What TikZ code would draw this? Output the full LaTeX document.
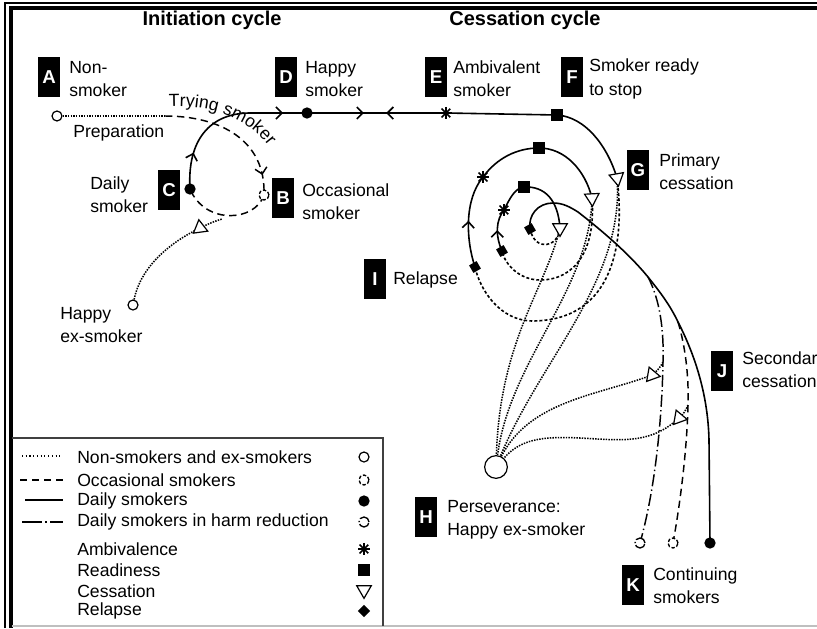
\documentclass[tikz,border=0pt]{standalone}
\usepackage{fontspec}
\setmainfont{Liberation Sans}
\usetikzlibrary{shapes.geometric,decorations.markings,decorations.text,arrows.meta}
\pgfdeclarelayer{background}
\pgfsetlayers{background,main}

\tikzset{
  lbl/.style={font=\fontsize{13.2}{17.5}\selectfont, align=left, inner sep=0pt, anchor=west},
  tag/.style={fill=black, text=white, font=\fontsize{14}{14}\selectfont\bfseries,
              minimum width=16pt, minimum height=30pt, inner sep=0pt},
  title/.style={font=\fontsize{15}{16}\selectfont\bfseries, inner sep=0pt},
  % line kinds
  daily/.style={line width=1.2pt},
  exsm/.style={line width=1.15pt, dash pattern=on 1.1pt off 0.9pt},
  occas/.style={line width=1.1pt, dash pattern=on 5.5pt off 3.5pt},
  harm/.style={line width=1.1pt, dash pattern=on 9pt off 2.5pt on 1pt off 2.5pt},
  relap/.style={line width=1.2pt, dash pattern=on 2.2pt off 1.6pt},
  % state markers
  m-ex/.style={circle, draw, fill=white, line width=0.9pt, minimum size=7.5pt, inner sep=0pt},
  m-occ/.style={circle, draw, fill=white, line width=1pt, dash pattern=on 2.6pt off 1.4pt,
                minimum size=7.5pt, inner sep=0pt},
  m-daily/.style={circle, fill=black, minimum size=8.5pt, inner sep=0pt},
  m-harm/.style={circle, draw, fill=white, line width=1pt,
                 dash pattern=on 9pt off 1.6pt on 0.9pt off 1.6pt, minimum size=7.5pt, inner sep=0pt},
  m-amb/.style={circle, minimum size=9.5pt, inner sep=0pt,
                path picture={\foreach \a in {0,45,90,135}{%
                  \draw[line width=1.3pt] (path picture bounding box.center) ++(\a:4.75pt) -- ++(\a+180:9.5pt);}}},
  m-ready/.style={rectangle, fill=black, minimum size=8.5pt, inner sep=0pt},
  m-cess/.style={regular polygon, regular polygon sides=3, draw, fill=white, line width=0.9pt,
                 minimum size=12.5pt, inner sep=0pt},
  m-rel/.style={rectangle, fill=black, minimum size=6.5pt, inner sep=0pt},
  chev/.style={postaction={decorate, decoration={markings,
      mark=at position #1 with {\arrow{Straight Barb[length=4.5pt,width=9pt]}}}}},
}

\begin{document}
\begin{tikzpicture}[x=0.75pt,y=-0.75pt]
\useasboundingbox (0,0) rectangle (817,628);

% frame
\draw[line width=0.8pt] (5,628) |- (817,3);
\draw[line width=3pt] (10.5,628) |- (817,7.5);
\draw[black!25, line width=1.2pt] (12,626) -- (817,626);

% titles
\node[title] (tInit) at (212,20) {Initiation cycle};
\node[title] (tCess) at (525,20) {Cessation cycle};

% stage tags and their captions
\node[tag] (A) at (49,77) {A};
\node[lbl] (Atxt) at (69,79) {Non-\\smoker};
\node[tag] (D) at (286,77) {D};
\node[lbl] (Dtxt) at (305,79) {Happy\\smoker};
\node[tag] (E) at (436,77) {E};
\node[lbl] (Etxt) at (453,79) {Ambivalent\\smoker};
\node[tag] (F) at (572,77) {F};
\node[lbl] (Ftxt) at (589,79) {Smoker ready\\to stop};
\node[tag] (G) at (638,170) {G};
\node[lbl] (Gtxt) at (659,172) {Primary\\cessation};
\node[tag] (C) at (169,190) {C};
\node[lbl] (Ctxt) at (90,195) {Daily\\smoker};
\node[tag] (B) at (283,198) {B};
\node[lbl] (Btxt) at (302,202) {Occasional\\smoker};
\node[tag] (I) at (375,279) {I};
\node[lbl] (Itxt) at (393,280) {Relapse};
\node[tag] (J) at (722,371) {J};
\node[lbl] (Jtxt) at (742,370) {Secondary\\cessation};
\node[tag] (H) at (426,517) {H};
\node[lbl] (Htxt) at (447,520) {Perseverance:\\Happy ex-smoker};
\node[tag] (K) at (633,585) {K};
\node[lbl] (Ktxt) at (653,586) {Continuing\\smokers};
\node[lbl] (exLtxt) at (60,325) {Happy\\ex-smoker};
\node[lbl] (preptxt) at (73,133) {Preparation};

% initiation cycle markers
\node[m-ex] (nonsm) at (57,116) {};
\coordinate (prep) at (165,116);
\node[m-occ] (oB) at (264,195) {};
\node[m-daily] (dC) at (190,189) {};
\coordinate (top) at (250,113);
\node[m-daily] (dD) at (307,113) {};
\node[m-amb] (aE) at (446,113) {};
\node[m-ready] (rF) at (557,115) {};
\node[m-ex] (exL) at (133,305) {};
\node[m-cess, rotate=8] (cL) at (200,228) {};
\coordinate (bot) at (222,219);

% cessation spiral markers
\node[m-cess, rotate=190] (cG) at (617,178) {};
\node[m-rel, rotate=30] (rel1) at (475,267) {};
\node[m-amb] (amb1) at (483,177) {};
\node[m-ready] (rd1) at (539,148) {};
\node[m-cess, rotate=183] (c1) at (592,198) {};
\node[m-rel, rotate=30] (rel2) at (502,251) {};
\node[m-amb] (amb2) at (504,210) {};
\node[m-ready] (rd2) at (524,187) {};
\node[m-cess, rotate=180] (c2) at (560,228) {};
\node[m-rel, rotate=30] (rel3) at (530,229) {};
\coordinate (sA) at (578,212);
\coordinate (sB) at (648,277);
\coordinate (sC) at (678,322);
\coordinate (jdd) at (663,362);
\coordinate (jd) at (688,405);
\node[m-cess, rotate=-100] (cJ1) at (652,375) {};
\node[m-cess, rotate=-100] (cJ2) at (679,418) {};
\node[m-ex, minimum size=17pt] (H0) at (496,467) {};
\node[m-harm] (kH) at (640,543) {};
\node[m-occ] (kO) at (673,543) {};
\node[m-daily] (kD) at (710,543) {};

\begin{pgfonlayer}{background}
% initiation cycle
\draw[exsm] (nonsm) -- (prep);
\draw[occas, chev=0.86] (prep) .. controls (220,116) and (266,140) .. (oB.center);
\draw[occas] (oB.center) .. controls (255,222) and (205,225) .. (dC.center);
\draw[daily, chev=0.33] (dC.center) .. controls (187,140) and (210,113) .. (top);
\draw[daily, chev=0.58] (top) -- (dD.center);
\draw[daily, postaction={decorate, decoration={markings,
    mark=at position 0.41 with {\arrow{Straight Barb[length=4.5pt,width=9pt]}},
    mark=at position 0.57 with {\arrowreversed{Straight Barb[length=4.5pt,width=9pt]}}}}]
  (dD.center) -- (aE.center);
\draw[daily] (aE.center) -- (rF.center);
\draw[daily] (rF.center) .. controls (585,117) and (607,145) .. (cG.center);
\draw[exsm] (exL) .. controls (140,270) and (165,245) .. (cL.center)
  .. controls (208,224) and (215,221) .. (bot);

% cessation spiral
\draw[relap] (cG.center) .. controls (625,240) and (615,320) .. (533,321)
  .. controls (500,321) and (480,290) .. (rel1.center);
\draw[daily, chev=0.5] (rel1.center) .. controls (466,240) and (464,200) .. (amb1.center);
\draw[daily] (amb1.center) .. controls (497,158) and (517,148) .. (rd1.center);
\draw[daily] (rd1.center) .. controls (565,148) and (585,170) .. (c1.center);
\draw[relap] (c1.center) .. controls (596,250) and (575,280) .. (540,280)
  .. controls (520,280) and (505,265) .. (rel2.center);
\draw[daily, chev=0.5] (rel2.center) .. controls (495,235) and (496,220) .. (amb2.center);
\draw[daily] (amb2.center) .. controls (510,198) and (515,188) .. (rd2.center);
\draw[daily] (rd2.center) .. controls (545,186) and (558,200) .. (c2.center);
\draw[relap] (c2.center) .. controls (558,248) and (535,252) .. (rel3.center);
\draw[daily] (rel3.center) .. controls (528,215) and (538,203) .. (553,203)
  .. controls (563,203) and (570,207) .. (sA)
  .. controls (605,233) and (630,255) .. (sB)
  .. controls (660,292) and (670,305) .. (sC)
  .. controls (695,355) and (708,395) .. (709,440) -- (kD.center);
\draw[harm] (sB) .. controls (660,300) and (664,330) .. (jdd)
  .. controls (662,420) and (655,490) .. (kH.center);
\draw[occas] (sC) .. controls (685,345) and (689,375) .. (jd)
  .. controls (687,450) and (680,505) .. (kO.center);

% routes to perseverance
\draw[exsm] (jdd) .. controls (660,368) and (656,372) .. (cJ1.center)
  .. controls (600,395) and (530,400) .. (H0);
\draw[exsm] (jd) .. controls (686,410) and (683,415) .. (cJ2.center)
  .. controls (650,445) and (620,440) .. (580,438)
  .. controls (540,436) and (520,440) .. (H0);
\draw[exsm] (c2.center) .. controls (545,290) and (500,340) .. (H0);
\draw[exsm] (c1.center) .. controls (590,290) and (510,360) .. (H0);
\draw[exsm] (cG.center) .. controls (625,280) and (540,360) .. (H0);
\end{pgfonlayer}

\path[decorate, decoration={text along path,
    text={|\fontsize{13.2}{15}\selectfont|Trying smoker}, text align={left}}]
  (169,107) .. controls (214,105) and (260,118) .. (282,170);

% legend
\draw[black!75, line width=0.8pt] (12,438) -| (383,626);
\coordinate (l1a) at (22,456);  \coordinate (l1b) at (63,456);
\coordinate (l2a) at (20,480);  \coordinate (l2b) at (63,480);
\coordinate (l3a) at (25,500);  \coordinate (l3b) at (63,500);
\coordinate (l4a) at (22,522);  \coordinate (l4b) at (63,522);
\draw[exsm, line width=0.8pt, dash pattern=on 0.8pt off 2pt] (l1a) -- (l1b);
\draw[occas] (l2a) -- (l2b);
\draw[daily] (l3a) -- (l3b);
\draw[harm, dash pattern=on 15pt off 2.5pt on 1pt off 2.5pt] (l4a) -- (l4b);
\node[lbl] (lg1) at (77,457) {Non-smokers and ex-smokers};
\node[lbl] (lg2) at (77,480) {Occasional smokers};
\node[lbl] (lg3) at (77,501) {Daily smokers};
\node[lbl] (lg4) at (77,522) {Daily smokers in harm reduction};
\node[lbl] (lg5) at (77,549) {Ambivalence};
\node[lbl] (lg6) at (77,570) {Readiness};
\node[lbl] (lg7) at (77,591) {Cessation};
\node[lbl] (lg8) at (77,611) {Relapse};
\node[m-ex] (ls1) at (364,457) {};
\node[m-occ] (ls2) at (364,480) {};
\node[m-daily] (ls3) at (364,501) {};
\node[m-harm] (ls4) at (364,522) {};
\node[m-amb] (ls5) at (364,549) {};
\node[m-ready] (ls6) at (364,570) {};
\node[m-cess, rotate=180] (ls7) at (364,590) {};
\node[m-rel, rotate=45] (ls8) at (364,611) {};
\end{tikzpicture}
\end{document}
